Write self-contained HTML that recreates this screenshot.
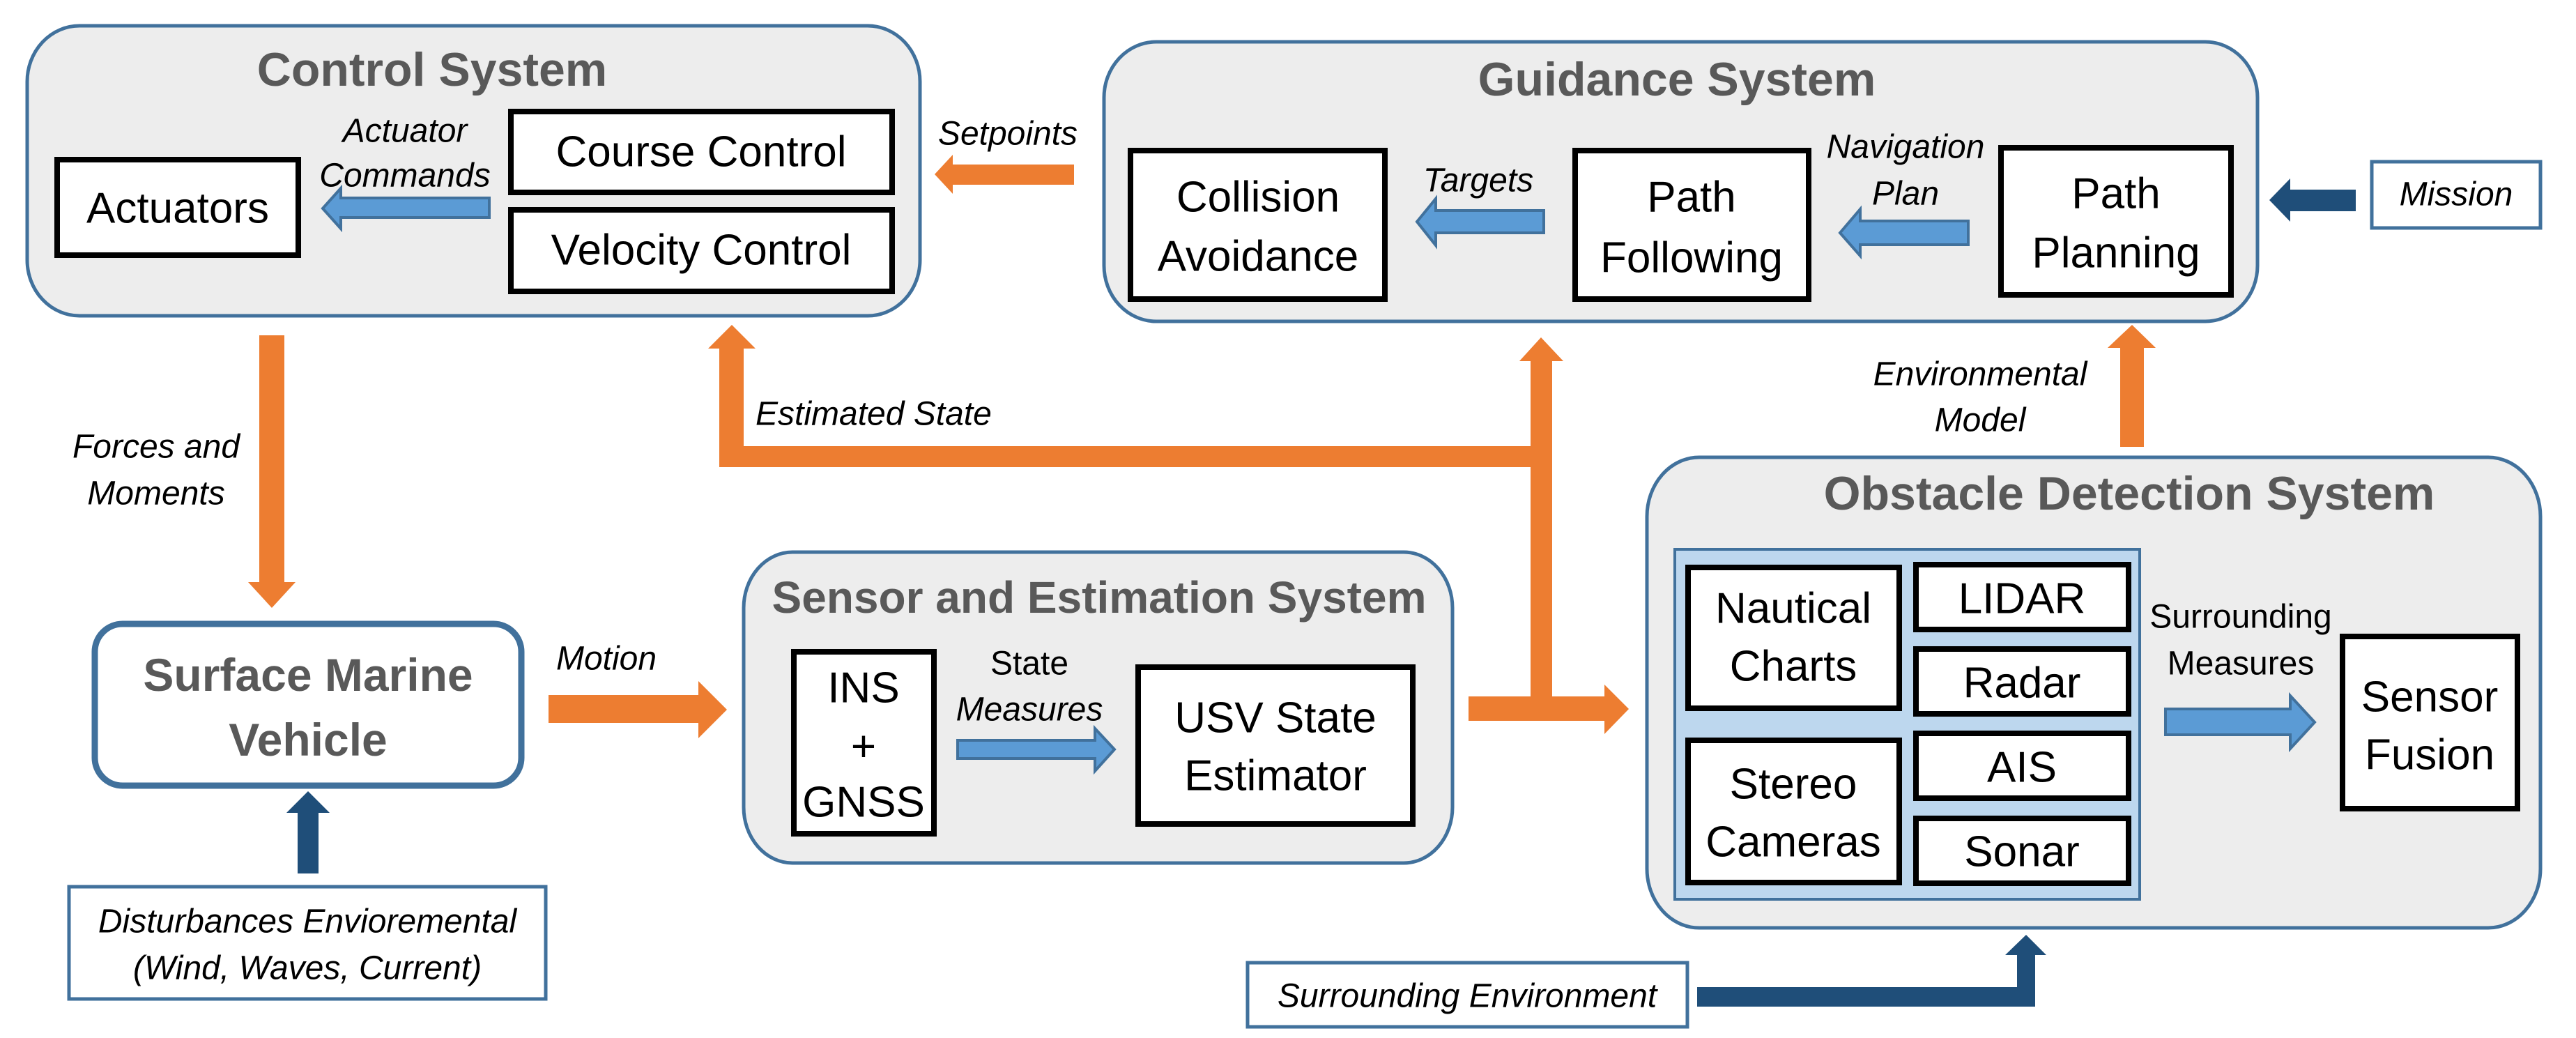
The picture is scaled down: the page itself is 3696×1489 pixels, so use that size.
<!DOCTYPE html>
<html><head><meta charset="utf-8"><style>
html,body{margin:0;padding:0;background:#fff;}
svg{display:block;}
text{font-family:"Liberation Sans Narrow","Liberation Sans",sans-serif;dominant-baseline:central;text-anchor:middle;}
.t{font-weight:bold;fill:#595959;font-size:68px;}
.b{font-size:62px;fill:#000;}
.i{font-style:italic;font-size:48px;fill:#000;}
.sys{fill:#ededed;stroke:#41719c;stroke-width:5;}
.bx{fill:#fff;stroke:#000;stroke-width:8;}
.ob{fill:#ed7d31;}
.bl{fill:#5b9bd5;stroke:#41719c;stroke-width:4;}
.db{fill:#1f4e79;}
</style></head><body>
<svg width="3696" height="1489" viewBox="0 0 3696 1489" xmlns="http://www.w3.org/2000/svg">
<rect class="sys" x="39" y="37" width="1281" height="416" rx="75" ry="80"/>
<text class="t" x="620" y="100">Control System</text>
<rect class="bx" x="82" y="229" width="346" height="137"/>
<text class="b" x="255" y="299">Actuators</text>
<rect class="bx" x="733" y="160" width="547" height="116"/>
<text class="b" x="1006" y="218">Course Control</text>
<rect class="bx" x="733" y="301" width="547" height="117"/>
<text class="b" x="1006" y="359">Velocity Control</text>
<polygon class="bl" points="463,299 489,270 489,284 702,284 702,312 489,312 489,328"/>
<text class="i" x="581" y="188">Actuator</text>
<text class="i" x="581" y="252">Commands</text>
<polygon class="ob" points="1341,250 1367,222 1367,236 1541,236 1541,265 1367,265 1367,278"/>
<text class="i" x="1446" y="192">Setpoints</text>
<rect class="sys" x="1584" y="60" width="1655" height="401" rx="75" ry="80"/>
<text class="t" x="2406" y="114">Guidance System</text>
<rect class="bx" x="1622" y="216" width="365" height="213"/>
<text class="b" x="1805" y="283">Collision</text>
<text class="b" x="1805" y="368">Avoidance</text>
<polygon class="bl" points="2033,318 2060,285 2060,302 2215,302 2215,334 2060,334 2060,352"/>
<text class="i" x="2121" y="259">Targets</text>
<rect class="bx" x="2260" y="216" width="335" height="213"/>
<text class="b" x="2427" y="283">Path</text>
<text class="b" x="2427" y="370">Following</text>
<polygon class="bl" points="2640,334 2669,300 2669,317 2824,317 2824,351 2669,351 2669,367"/>
<text class="i" x="2734" y="211">Navigation</text>
<text class="i" x="2734" y="278">Plan</text>
<rect class="bx" x="2871" y="212" width="330" height="211"/>
<text class="b" x="3036" y="278">Path</text>
<text class="b" x="3036" y="363">Planning</text>
<polygon class="db" points="3256,287 3286,256 3286,272 3380,272 3380,303 3286,303 3286,318"/>
<rect x="3403" y="232" width="242" height="95" fill="#fff" stroke="#41719c" stroke-width="5"/>
<text class="i" x="3524" y="279">Mission</text>
<polygon class="ob" points="372,481 408,481 408,835 424,835 390,872 356,835 372,835"/>
<text class="i" x="224" y="641">Forces and</text>
<text class="i" x="224" y="708">Moments</text>
<polygon class="ob" points="1032,670 1032,500 1016,500 1050,466 1084,500 1067,500 1067,640 2196,640 2196,670"/>
<text class="i" x="1084" y="594" style="text-anchor:start">Estimated State</text>
<polygon class="ob" points="2196,1034 2196,518 2180,518 2211,484 2243,518 2227,518 2227,999 2302,999 2302,982 2337,1017 2302,1053 2302,1034 2107,1034 2107,999 2196,999"/>
<polygon class="ob" points="3042,641 3042,499 3024,499 3059,466 3093,499 3076,499 3076,641"/>
<text class="i" x="2841" y="537">Environmental</text>
<text class="i" x="2841" y="603">Model</text>
<rect x="136" y="895" width="612" height="232" rx="40" ry="40" fill="#fff" stroke="#41719c" stroke-width="9"/>
<text class="t" x="442" y="968" style="font-size:66px">Surface Marine</text>
<text class="t" x="442" y="1061" style="font-size:66px">Vehicle</text>
<polygon class="db" points="427,1253 427,1166 411,1166 442,1135 473,1166 457,1166 457,1253"/>
<rect x="99" y="1272" width="684" height="161" fill="#fff" stroke="#41719c" stroke-width="5"/>
<text class="i" x="441" y="1322">Disturbances Envioremental</text>
<text class="i" x="441" y="1389">(Wind, Waves, Current)</text>
<polygon class="ob" points="787,997 1002,997 1002,977 1043,1018 1002,1059 1002,1037 787,1037"/>
<text class="i" x="870" y="945">Motion</text>
<rect class="sys" x="1067" y="792" width="1017" height="446" rx="70" ry="80"/>
<text class="t" x="1577" y="857" style="font-size:64px">Sensor and Estimation System</text>
<rect class="bx" x="1139" y="935" width="201" height="261"/>
<text class="b" x="1239" y="987">INS</text>
<text class="b" x="1239" y="1071">+</text>
<text class="b" x="1239" y="1151">GNSS</text>
<polygon class="bl" points="1374,1062 1571,1062 1571,1045 1599,1075 1571,1106 1571,1088 1374,1088"/>
<text class="i" x="1477" y="952" style="font-style:normal">State</text>
<text class="i" x="1477" y="1018">Measures</text>
<rect class="bx" x="1633" y="957" width="394" height="225"/>
<text class="b" x="1830" y="1030">USV State</text>
<text class="b" x="1830" y="1113">Estimator</text>
<rect class="sys" x="2363" y="656" width="1282" height="675" rx="75" ry="85"/>
<text class="t" x="3055" y="708">Obstacle Detection System</text>
<rect x="2403" y="788" width="667" height="502" fill="#bdd7ee" stroke="#41719c" stroke-width="4"/>
<rect class="bx" x="2422" y="814" width="303" height="202"/>
<text class="b" x="2573" y="873">Nautical</text>
<text class="b" x="2573" y="956">Charts</text>
<rect class="bx" x="2422" y="1062" width="303" height="204"/>
<text class="b" x="2573" y="1125">Stereo</text>
<text class="b" x="2573" y="1208">Cameras</text>
<rect class="bx" x="2749" y="810" width="305" height="93"/>
<text class="b" x="2901" y="859">LIDAR</text>
<rect class="bx" x="2749" y="931" width="305" height="93"/>
<text class="b" x="2901" y="980">Radar</text>
<rect class="bx" x="2749" y="1052" width="305" height="93"/>
<text class="b" x="2901" y="1101">AIS</text>
<rect class="bx" x="2749" y="1174" width="305" height="93"/>
<text class="b" x="2901" y="1222">Sonar</text>
<polygon class="bl" points="3107,1017 3286,1017 3286,998 3321,1036 3286,1074 3286,1054 3107,1054"/>
<text class="i" x="3215" y="885" style="font-style:normal">Surrounding</text>
<text class="i" x="3215" y="952" style="font-style:normal">Measures</text>
<rect class="bx" x="3361" y="913" width="251" height="247"/>
<text class="b" x="3486" y="1000">Sensor</text>
<text class="b" x="3486" y="1083">Fusion</text>
<rect x="1790" y="1381" width="631" height="92" fill="#fff" stroke="#41719c" stroke-width="5"/>
<text class="i" x="2105" y="1429">Surrounding Environment</text>
<polygon class="db" points="2435,1416 2894,1416 2894,1370 2877,1370 2907,1341 2936,1370 2920,1370 2920,1444 2435,1444"/>
</svg>
</body></html>
